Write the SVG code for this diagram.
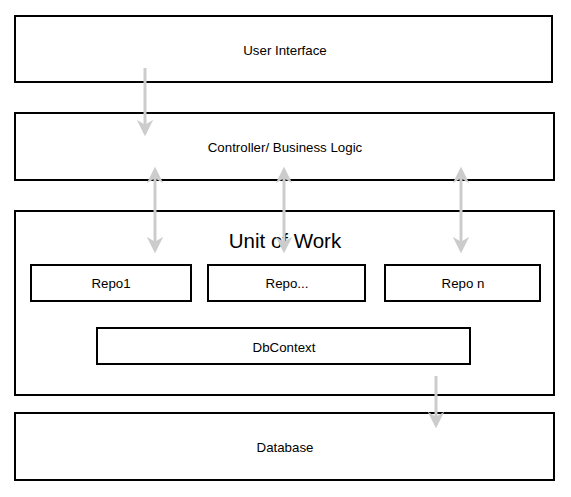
<svg xmlns="http://www.w3.org/2000/svg" width="571" height="497" viewBox="0 0 571 497">
<defs>
<marker id="ah" viewBox="0 0 10 10" refX="8" refY="5" markerWidth="5.5" markerHeight="5.5" orient="auto-start-reverse" markerUnits="strokeWidth">
<path d="M0,0 L10,5 L0,10 L3,5 Z" fill="#cccccc"/>
</marker>
<style>
.box{fill:#fff;stroke:#000;stroke-width:2}
.lbl{font-family:"Liberation Sans",Arial,sans-serif;font-size:13.3px;fill:#000;text-anchor:middle;dominant-baseline:central}
.big{font-size:20.5px}
.conn{stroke:#cccccc;stroke-width:3;fill:none}
</style>
</defs>
<rect width="571" height="497" fill="#fff"/>
<g id="ui"><rect class="box" x="15" y="16" width="537" height="66"/><text class="lbl" x="285" y="50">User Interface</text></g>
<g id="controller"><rect class="box" x="15" y="113" width="539" height="67"/><text class="lbl" x="285" y="147">Controller/ Business Logic</text></g>
<g id="uow"><rect class="box" x="15" y="211" width="539" height="184"/><text class="lbl big" x="285" y="240">Unit of Work</text></g>
<g id="repo1"><rect class="box" x="31" y="265" width="160" height="36"/><text class="lbl" x="111" y="283">Repo1</text></g>
<g id="repodots"><rect class="box" x="208" y="265" width="157" height="36"/><text class="lbl" x="287" y="283">Repo...</text></g>
<g id="repon"><rect class="box" x="385" y="265" width="155" height="36"/><text class="lbl" x="463" y="283">Repo n</text></g>
<g id="dbcontext"><rect class="box" x="97" y="328" width="373" height="36"/><text class="lbl" x="284" y="347">DbContext</text></g>
<g id="database"><rect class="box" x="15" y="413" width="539" height="67"/><text class="lbl" x="285" y="447">Database</text></g>
<g id="connectors">
<line class="conn" x1="145" y1="68" x2="145" y2="133" marker-end="url(#ah)"/>
<line class="conn" x1="155" y1="170" x2="155" y2="250" marker-start="url(#ah)" marker-end="url(#ah)"/>
<line class="conn" x1="284" y1="170" x2="284" y2="250" marker-start="url(#ah)" marker-end="url(#ah)"/>
<line class="conn" x1="461" y1="170" x2="461" y2="250" marker-start="url(#ah)" marker-end="url(#ah)"/>
<line class="conn" x1="436" y1="376" x2="436" y2="425" marker-end="url(#ah)"/>
</g>
</svg>
